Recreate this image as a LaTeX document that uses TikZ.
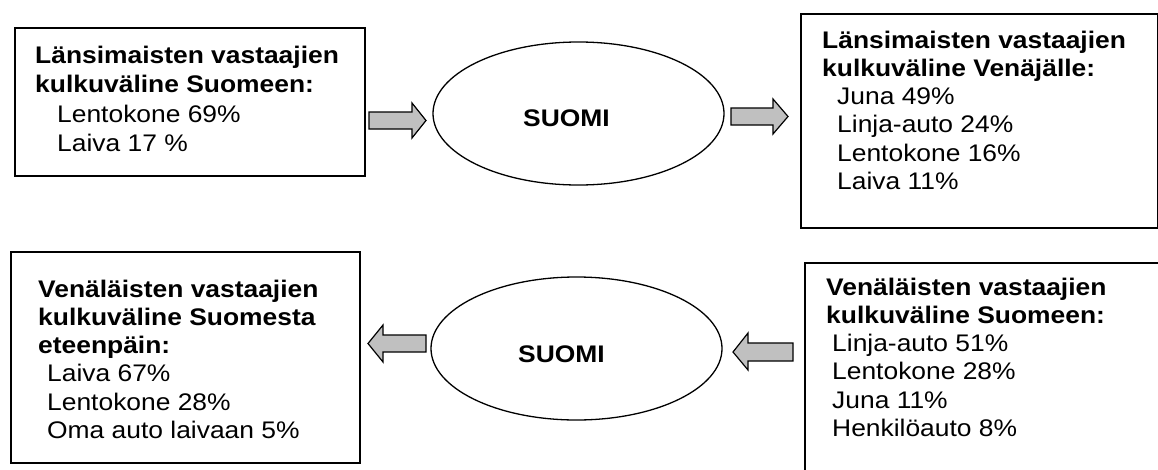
\documentclass[tikz,border=0pt]{standalone}
\usepackage{fontspec}
\setmainfont{Liberation Sans}[FakeStretch=1.1]
\usetikzlibrary{shapes.geometric}
\definecolor{arrowgray}{HTML}{C0C0C0}
\begin{document}
\begin{tikzpicture}[x=1pt,y=-1pt,
  frame/.style={draw=black, line width=1.8pt, rectangle, inner sep=0pt, anchor=north west},
  txt/.style={anchor=base west, inner sep=0pt, font=\fontsize{24}{28.3}\selectfont},
  land/.style={draw=black, line width=1.3pt, ellipse, minimum width=291pt, minimum height=143pt, inner sep=0pt},
  landname/.style={anchor=base, inner sep=0pt, font=\fontsize{24}{28}\selectfont\bfseries},
  blockarrow/.style={draw=black, line width=1.2pt, fill=arrowgray, line join=miter}]
\useasboundingbox (0,0) rectangle (1158,469);
\clip (0,0) rectangle (1158,469);

% upper row: western respondents
\node[frame, minimum width=350pt, minimum height=148pt] (wIn) at (14,27) {};
\node[txt, font=\fontsize{24}{29.6}\selectfont] (wInText) at (35,63) {\vtop{%
  \hbox{\bfseries Länsimaisten vastaajien}
  \hbox{\bfseries kulkuväline Suomeen:}
  \hbox{\hspace*{22pt}Lentokone 69\%}
  \hbox{\hspace*{22pt}Laiva 17 \%}}};

\node[land] (fi1) at (578.5,113.5) {};
\node[landname] (fi1name) at (566.5,126) {SUOMI};

\node[frame, minimum width=357pt, minimum height=214pt] (wOut) at (800,13) {};
\node[txt] (wOutText) at (822,48) {\vtop{%
  \hbox{\bfseries Länsimaisten vastaajien}
  \hbox{\bfseries kulkuväline Venäjälle:}
  \hbox{\hspace*{15pt}Juna 49\%}
  \hbox{\hspace*{15pt}Linja-auto 24\%}
  \hbox{\hspace*{15pt}Lentokone 16\%}
  \hbox{\hspace*{15pt}Laiva 11\%}}};

\draw[blockarrow] (369,112) -- (412,112) -- (412,103) -- (426,120.5)
  -- (412,138) -- (412,129) -- (369,129) -- cycle;
\draw[blockarrow] (731,108) -- (773,108) -- (773,99) -- (788,116.5)
  -- (773,134) -- (773,125) -- (731,125) -- cycle;

% lower row: Russian respondents
\node[frame, minimum width=349pt, minimum height=211pt] (rOut) at (10,251) {};
\node[txt] (rOutText) at (38,297) {\vtop{%
  \hbox{\bfseries Venäläisten vastaajien}
  \hbox{\bfseries kulkuväline Suomesta}
  \hbox{\bfseries eteenpäin:}
  \hbox{\hspace*{9pt}Laiva 67\%}
  \hbox{\hspace*{9pt}Lentokone 28\%}
  \hbox{\hspace*{9pt}Oma auto laivaan 5\%}}};

\node[land] (fi2) at (576.5,348.5) {};
\node[landname] (fi2name) at (561.5,362.5) {SUOMI};

\node[frame, minimum width=358pt, minimum height=220pt] (rIn) at (804,262) {};
\node[txt] (rInText) at (826,295) {\vtop{%
  \hbox{\bfseries Venäläisten vastaajien}
  \hbox{\bfseries kulkuväline Suomeen:}
  \hbox{\hspace*{6pt}Linja-auto 51\%}
  \hbox{\hspace*{6pt}Lentokone 28\%}
  \hbox{\hspace*{6pt}Juna 11\%}
  \hbox{\hspace*{6pt}Henkilöauto 8\%}}};

\draw[blockarrow] (426,335) -- (383,335) -- (383,325) -- (368,343.5)
  -- (383,362) -- (383,352) -- (426,352) -- cycle;
\draw[blockarrow] (793,343) -- (748,343) -- (748,333) -- (733,352)
  -- (748,370) -- (748,361) -- (793,361) -- cycle;
\end{tikzpicture}
\end{document}
